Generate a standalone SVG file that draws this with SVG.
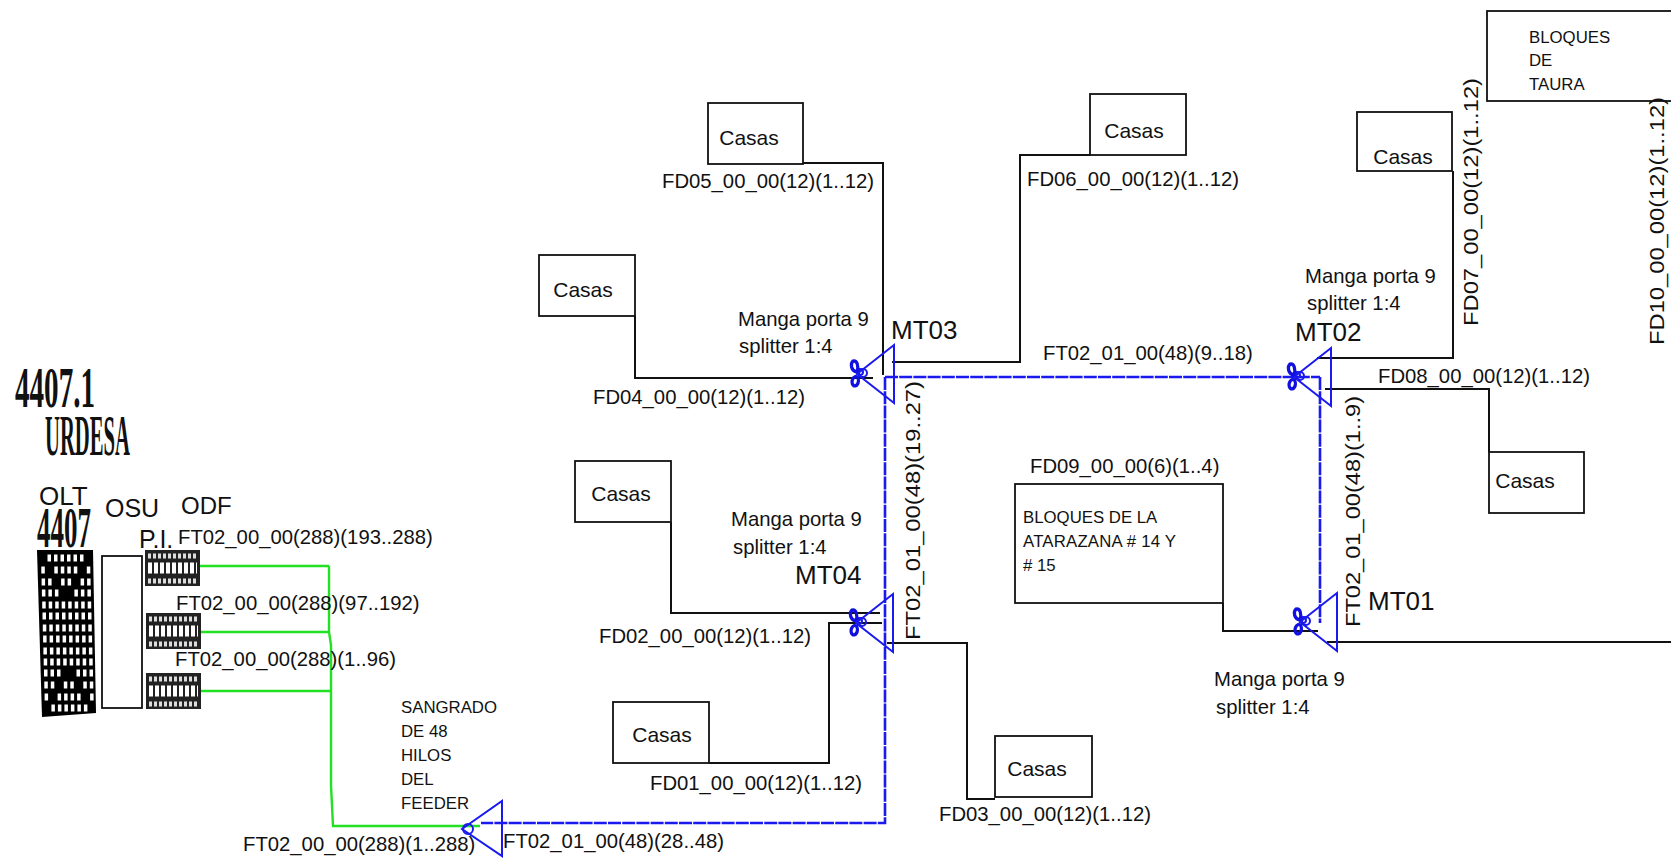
<svg xmlns="http://www.w3.org/2000/svg" width="1671" height="858" viewBox="0 0 1671 858">
<defs>
<style>
text{font-family:"Liberation Sans",Arial,sans-serif;fill:#111}
.l{font-size:20.3px}
.s{font-size:16.8px}
.m{font-size:26px}
.c{font-size:21px;text-anchor:middle}
.b{fill:#fff;stroke:#111;stroke-width:1.8}
.k{fill:none;stroke:#111;stroke-width:2}
.g{fill:none;stroke:#22e022;stroke-width:2.4}
.bl{fill:none;stroke:#1a1aee;stroke-width:2.6}
.d{stroke-dasharray:13 1.2}
.sp{fill:none;stroke:#1a1aee;stroke-width:2}
.sc{fill:none;stroke:#1010e0;stroke-width:3.2}
.o{stroke:#fff;stroke-width:7;stroke-dasharray:3.5 3;fill:none}
.h{font-family:"Liberation Serif",serif;font-weight:bold;fill:#111}
.b1{stroke:#ddd;stroke-width:5;stroke-dasharray:3 2;fill:none}
.b2{stroke:#fff;stroke-width:11;stroke-dasharray:4 2;fill:none}
</style>
<g id="splitter">
<path class="sp" d="M0 0L37-29V29Z"/>
<circle class="sp" cx="6" cy="-1" r="4"/>
<circle class="sp" cx="3" cy="-2" r="3"/>
<path class="sc" d="M0-2C-6-3-7-10-4-13C0-14 2-8 0-2M0 2C-6 3-6 10-3 12C1 12 3 7 0 2"/>
</g>
<g id="odf">
<rect width="55" height="36" fill="#222"/>
<path class="b1" d="M3 6H52M3 31H52"/>
<path class="b2" d="M3 18H52"/>
</g>
</defs>
<rect width="1671" height="858" fill="#fff"/>
<g id="connectors">
<path class="k" d="M803 163H883V375M635 316V378H873M892 362H1020V155H1090"/>
<path class="k" d="M671 522V613H880M882 623H829V763H709"/>
<path class="k" d="M887 643H967V799H995"/>
<path class="k" d="M1223 603V631H1318M1327 642H1671"/>
<path class="k" d="M1453 171V358H1317M1325 389H1489V452"/>
<path class="g" d="M199 566H329M199 632H329M199 691H331M329 566V632L331 645V785L333 826H480"/>
<path class="bl d" d="M885 377H1320"/>
<path class="bl d" d="M1320 377V623"/>
<path class="bl d" d="M885 377V823H481"/>
</g>
<g id="MT03"><use href="#splitter" x="857" y="374"/><text class="m" x="891" y="339">MT03</text><text class="l" x="738" y="326">Manga porta 9</text><text class="l" x="739" y="353">splitter 1:4</text></g>
<g id="MT02"><use href="#splitter" x="1294" y="377"/><text class="m" x="1295" y="341">MT02</text><text class="l" x="1305" y="283">Manga porta 9</text><text class="l" x="1307" y="310">splitter 1:4</text></g>
<g id="MT01"><use href="#splitter" x="1300" y="622"/><text class="m" x="1368" y="610">MT01</text><text class="l" x="1214" y="686">Manga porta 9</text><text class="l" x="1216" y="714">splitter 1:4</text></g>
<g id="MT04"><use href="#splitter" x="856" y="623"/><text class="m" x="795" y="584">MT04</text><text class="l" x="731" y="526">Manga porta 9</text><text class="l" x="733" y="554">splitter 1:4</text></g>
<g id="sangrado"><path class="sp" d="M462 829L502 801V856Z"/><circle class="sp" cx="468" cy="829" r="5"/><g class="s"><text x="401" y="713">SANGRADO</text><text x="401" y="737">DE 48</text><text x="401" y="761">HILOS</text><text x="401" y="785">DEL</text><text x="401" y="809">FEEDER</text></g></g>
<g id="casas1"><rect class="b" x="708" y="103" width="95" height="61"/><text class="c" x="749" y="145">Casas</text></g>
<g id="casas2"><rect class="b" x="1090" y="94" width="96" height="61"/><text class="c" x="1134" y="138">Casas</text></g>
<g id="casas3"><rect class="b" x="539" y="255" width="96" height="61"/><text class="c" x="583" y="297">Casas</text></g>
<g id="casas4"><rect class="b" x="1357" y="112" width="95" height="59"/><text class="c" x="1403" y="164">Casas</text></g>
<g id="casas5"><rect class="b" x="1489" y="452" width="95" height="61"/><text class="c" x="1525" y="488">Casas</text></g>
<g id="casas6"><rect class="b" x="575" y="461" width="96" height="61"/><text class="c" x="621" y="501">Casas</text></g>
<g id="casas7"><rect class="b" x="613" y="702" width="96" height="61"/><text class="c" x="662" y="742">Casas</text></g>
<g id="casas8"><rect class="b" x="995" y="736" width="97" height="61"/><text class="c" x="1037" y="776">Casas</text></g>
<g id="taura"><rect class="b" x="1487" y="11" width="190" height="90"/><g class="s"><text x="1529" y="43">BLOQUES</text><text x="1529" y="66">DE</text><text x="1529" y="90">TAURA</text></g></g>
<g id="atarazana"><rect class="b" x="1015" y="484" width="208" height="119"/><g class="s"><text x="1023" y="523">BLOQUES DE LA</text><text x="1023" y="547" textLength="153">ATARAZANA # 14 Y</text><text x="1023" y="571"># 15</text></g></g>
<g id="labels" class="l">
<text x="662" y="188">FD05_00_00(12)(1..12)</text>
<text x="1027" y="186">FD06_00_00(12)(1..12)</text>
<text x="593" y="404">FD04_00_00(12)(1..12)</text>
<text x="1043" y="360">FT02_01_00(48)(9..18)</text>
<text x="1378" y="383">FD08_00_00(12)(1..12)</text>
<text x="1030" y="473">FD09_00_00(6)(1..4)</text>
<text x="599" y="643">FD02_00_00(12)(1..12)</text>
<text x="650" y="790">FD01_00_00(12)(1..12)</text>
<text x="939" y="821">FD03_00_00(12)(1..12)</text>
<text x="243" y="851">FT02_00_00(288)(1..288)</text>
<text x="503" y="848">FT02_01_00(48)(28..48)</text>
<text x="178" y="544">FT02_00_00(288)(193..288)</text>
<text x="176" y="610">FT02_00_00(288)(97..192)</text>
<text x="175" y="666">FT02_00_00(288)(1..96)</text>
<text transform="translate(920 640) rotate(-90)" textLength="259" lengthAdjust="spacingAndGlyphs">FT02_01_00(48)(19..27)</text>
<text transform="translate(1360 627) rotate(-90)" textLength="231" lengthAdjust="spacingAndGlyphs">FT02_01_00(48)(1..9)</text>
<text transform="translate(1478 326) rotate(-90)" textLength="248" lengthAdjust="spacingAndGlyphs">FD07_00_00(12)(1..12)</text>
<text transform="translate(1664 345) rotate(-90)" textLength="248" lengthAdjust="spacingAndGlyphs">FD10_00_00(12)(1..12)</text>
</g>
<g id="olt">
<text class="h" font-size="56" textLength="80" lengthAdjust="spacingAndGlyphs" x="15" y="407">4407.1</text>
<text class="h" font-size="56" textLength="85" lengthAdjust="spacingAndGlyphs" x="45" y="455">URDESA</text>
<text x="39" y="505" style="font-size:26px">OLT</text>
<text class="h" font-size="58" textLength="54" lengthAdjust="spacingAndGlyphs" x="37" y="547">4407</text>
<path fill="#000" d="M37 550H93L96 713L42 717Z"/>
<g id="olt-cells">
<path class="o" d="M47.5 558H83.5"/>
<path class="o" d="M41.3 570H44.8M54.3 570H77.3M86.8 570H90.3"/>
<path class="o" d="M41.6 582H51.6M61.1 582H71.1M80.6 582H90.6"/>
<path class="o" d="M41.9 593H58.4M74.4 593H90.9"/>
<path class="o" d="M42.2 605H91.2"/>
<path class="o" d="M42.5 616H91.5"/>
<path class="o" d="M42.8 628H91.8"/>
<path class="o" d="M43.1 639H92.1"/>
<path class="o" d="M43.4 651H92.4"/>
<path class="o" d="M43.7 662H92.7"/>
<path class="o" d="M44 673H60.5M76.5 673H93"/>
<path class="o" d="M44.3 685H54.3M63.8 685H73.8M83.3 685H93.3"/>
<path class="o" d="M44.6 697H48.1M57.6 697H80.6M90.1 697H93.6"/>
<path class="o" d="M51.4 708H87.4"/>
</g>
</g>
<g id="osu"><rect class="b" x="102" y="556" width="40" height="152"/><text x="105" y="517" style="font-size:25px">OSU</text><text x="139" y="548" style="font-size:25px">P.I.</text></g>
<g id="odf-group"><text x="181" y="514" style="font-size:24px">ODF</text><use href="#odf" x="145" y="550"/><use href="#odf" x="146" y="613"/><use href="#odf" x="146" y="673"/></g>
</svg>
